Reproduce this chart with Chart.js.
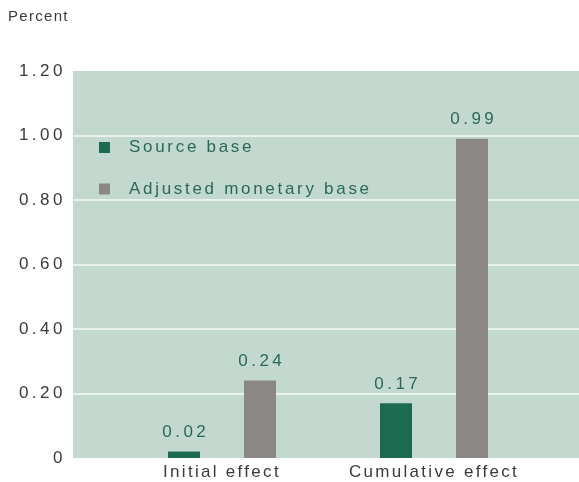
<!DOCTYPE html>
<html>
<head>
<meta charset="utf-8">
<script src="https://cdn.jsdelivr.net/npm/chart.js@4/dist/chart.umd.min.js"></script>
<style>
  html, body { margin: 0; padding: 0; background: #ffffff; overflow: hidden; }
  #wrap { position: relative; width: 579px; height: 482px; }
  #chart { display: block; width: 579px; height: 482px; }
</style>
</head>
<body>
<div id="wrap"><canvas id="chart"></canvas></div>
<script>
// Chart data
const categories = ['Initial effect', 'Cumulative effect'];
const seriesNames = ['Source base', 'Adjusted monetary base'];
const sourceBase = [0.02, 0.17];
const adjustedBase = [0.24, 0.99];
const yMin = 0;
const yMax = 1.2;
const yStep = 0.2;
const unitLabel = 'Percent';

// Styling
const FONT = '"Liberation Sans", Arial, Helvetica, sans-serif';
const PANEL_BG = '#c3d8cf';
const GRID_COLOR = '#e9f1ed';
const GREEN = '#1c6a4f';
const GRAY = '#8b8787';
const LABEL_GREEN = '#2a6956';
const AXIS_TEXT = '#3a3a3a';
const PANEL_LEFT = 73;       // panel begins left of the plotting area
const PANEL_RIGHT_PAD = 0;   // panel runs to the canvas edge

function fmtTick(v) {
  return Math.abs(v) < 1e-9 ? '0' : v.toFixed(2);
}

// Shaded panel, white gridlines, unit caption, value labels and legend
const panelPlugin = {
  id: 'panel',
  beforeDraw(chart) {
    const ctx = chart.ctx;
    const area = chart.chartArea;
    const y = chart.scales.y;
    const right = chart.width - PANEL_RIGHT_PAD;
    ctx.save();
    ctx.fillStyle = PANEL_BG;
    ctx.fillRect(PANEL_LEFT, area.top, right - PANEL_LEFT, area.bottom - area.top);
    ctx.strokeStyle = GRID_COLOR;
    ctx.lineWidth = 2;
    y.ticks.forEach(t => {
      if (t.value <= yMin + 1e-9 || t.value >= yMax - 1e-9) return;
      const py = Math.round(y.getPixelForValue(t.value));
      ctx.beginPath();
      ctx.moveTo(PANEL_LEFT, py);
      ctx.lineTo(right, py);
      ctx.stroke();
    });
    ctx.letterSpacing = '1.3px';
    ctx.fillStyle = AXIS_TEXT;
    ctx.font = '15px ' + FONT;
    ctx.textAlign = 'left';
    ctx.textBaseline = 'middle';
    ctx.fillText(unitLabel, 8, 17);
    ctx.restore();
    // spacing used by the y-axis tick labels
    ctx.letterSpacing = '3.5px';
  },
  afterDatasetsDraw(chart) {
    const ctx = chart.ctx;
    // value labels above each bar
    ctx.save();
    ctx.letterSpacing = '3.5px';
    ctx.font = '17px ' + FONT;
    ctx.fillStyle = LABEL_GREEN;
    ctx.textAlign = 'center';
    ctx.textBaseline = 'middle';
    chart.data.datasets.forEach((ds, di) => {
      const meta = chart.getDatasetMeta(di);
      meta.data.forEach((bar, i) => {
        ctx.fillText(ds.data[i].toFixed(2), bar.x + 1.75, bar.y - 19);
      });
    });
    ctx.restore();

    // legend inside the panel
    ctx.save();
    ctx.letterSpacing = '2.7px';
    ctx.font = '17px ' + FONT;
    ctx.textAlign = 'left';
    ctx.textBaseline = 'middle';
    const rows = [147.5, 189];
    chart.data.datasets.forEach((ds, di) => {
      const cy = rows[di];
      ctx.fillStyle = ds.backgroundColor;
      ctx.fillRect(99, cy - 5.5, 11, 11);
      ctx.fillStyle = LABEL_GREEN;
      ctx.fillText(ds.label, 129, cy);
    });
    ctx.restore();

    // spacing used by the category labels drawn next
    ctx.letterSpacing = '2.3px';
  }
};

new Chart(document.getElementById('chart'), {
  type: 'bar',
  data: {
    labels: categories,
    datasets: [
      { label: seriesNames[0], data: sourceBase, backgroundColor: GREEN },
      { label: seriesNames[1], data: adjustedBase, backgroundColor: GRAY }
    ]
  },
  options: {
    responsive: true,
    maintainAspectRatio: false,
    animation: false,
    events: [],
    devicePixelRatio: 1,
    layout: { padding: { left: 0, top: 71, right: 39, bottom: 0 } },
    datasets: {
      bar: { categoryPercentage: 0.717, barPercentage: 0.421, borderWidth: 0 }
    },
    plugins: {
      legend: { display: false },
      tooltip: { enabled: false },
      title: { display: false }
    },
    scales: {
      x: {
        grid: { display: false, drawTicks: false },
        border: { display: false },
        ticks: {
          z: 1,
          color: AXIS_TEXT,
          font: { family: FONT, size: 17 },
          padding: 4,
          maxRotation: 0
        },
        afterFit(scale) { scale.height = 24; }
      },
      y: {
        min: yMin,
        max: yMax,
        grid: { display: false, drawTicks: false },
        border: { display: false },
        ticks: {
          stepSize: yStep,
          color: AXIS_TEXT,
          font: { family: FONT, size: 17 },
          padding: 50,
          callback: (v) => fmtTick(v)
        },
        afterFit(scale) {
          // fixed axis width; the wide label gap should not shrink the plot vertically
          scale.width = 116;
          scale.paddingTop = 0;
          scale.paddingBottom = 0;
        }
      }
    }
  },
  plugins: [panelPlugin]
});
</script>
</body>
</html>
